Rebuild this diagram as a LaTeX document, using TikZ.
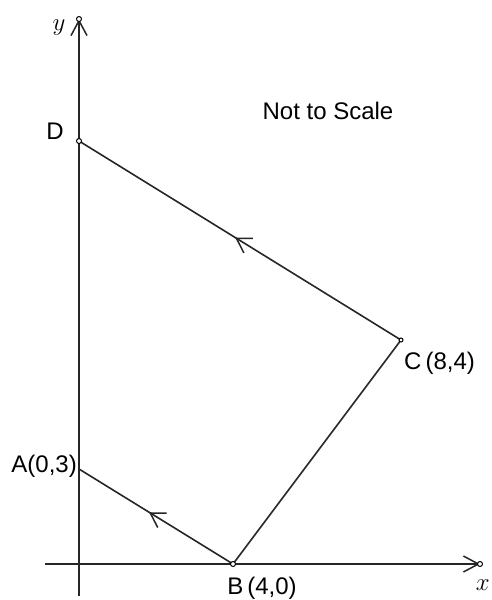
\documentclass[tikz,border=0pt]{standalone}
\usepackage{fontspec}
\setmainfont{Liberation Sans}
\usetikzlibrary{arrows.meta,decorations.markings}
\begin{document}
\begin{tikzpicture}[x=1pt,y=-1pt,
  line/.style={line width=1.6pt,black!85},
  barb/.tip={Straight Barb[length=14pt,width=17pt,line width=1.5pt]},
  axbarb/.tip={Straight Barb[length=15pt,width=16pt,line width=1.5pt]},
  vdot/.style={circle,draw,line width=1pt,inner sep=0pt,minimum size=5pt,fill=white},
  lbl/.style={font=\fontsize{24}{28}\selectfont,inner sep=0pt},
  midarrow/.style={postaction={decorate},decoration={markings,mark=at position #1 with {\arrow{barb}}}}]
\useasboundingbox (0,0) rectangle (491,600);
% points
\coordinate (O) at (79,564);
\coordinate (ytop) at (79,19);
\coordinate (ybot) at (79,596);
\coordinate (xl) at (45,564);
\coordinate (xr) at (480,564);
\coordinate (D) at (79,141);
\coordinate (A) at (79,469);
\coordinate (B) at (233,564);
\coordinate (C) at (401,340);
% axes
\draw[line,-{axbarb}] (ybot) -- (ytop);
\draw[line,-{axbarb}] (xl) -- (xr);
% quadrilateral path
\draw[line,midarrow=0.515] (C) -- (D);
\draw[line] (B) -- (C);
\draw[line,midarrow=0.545] (B) -- (A);
% small circles
\node[vdot] (ytip) at (ytop) {};
\node[vdot] (xtip) at (xr) {};
\node[vdot] (Dd) at (D) {};
\node[vdot] (Bd) at (B) {};
\node[vdot,minimum size=4pt] (Cd) at (C) {};
% labels
\node[font=\fontsize{27}{30}\selectfont,inner sep=0pt] (ylab) at (59,28) {$y$};
\node[font=\fontsize{27}{30}\selectfont,inner sep=0pt,anchor=east] (xlab) at (490,585) {$x$};
\node[lbl] (Dlab) at (55,131) {D};
\node[lbl] (title) at (328,111) {Not to Scale};
\node[lbl,anchor=west] (Clab) at (404,363) {C\,(8,4)};
\node[lbl,anchor=east] (Alab) at (77,466) {A(0,3)};
\node[lbl] (Blab) at (262,588) {B\,(4,0)};
\end{tikzpicture}
\end{document}
